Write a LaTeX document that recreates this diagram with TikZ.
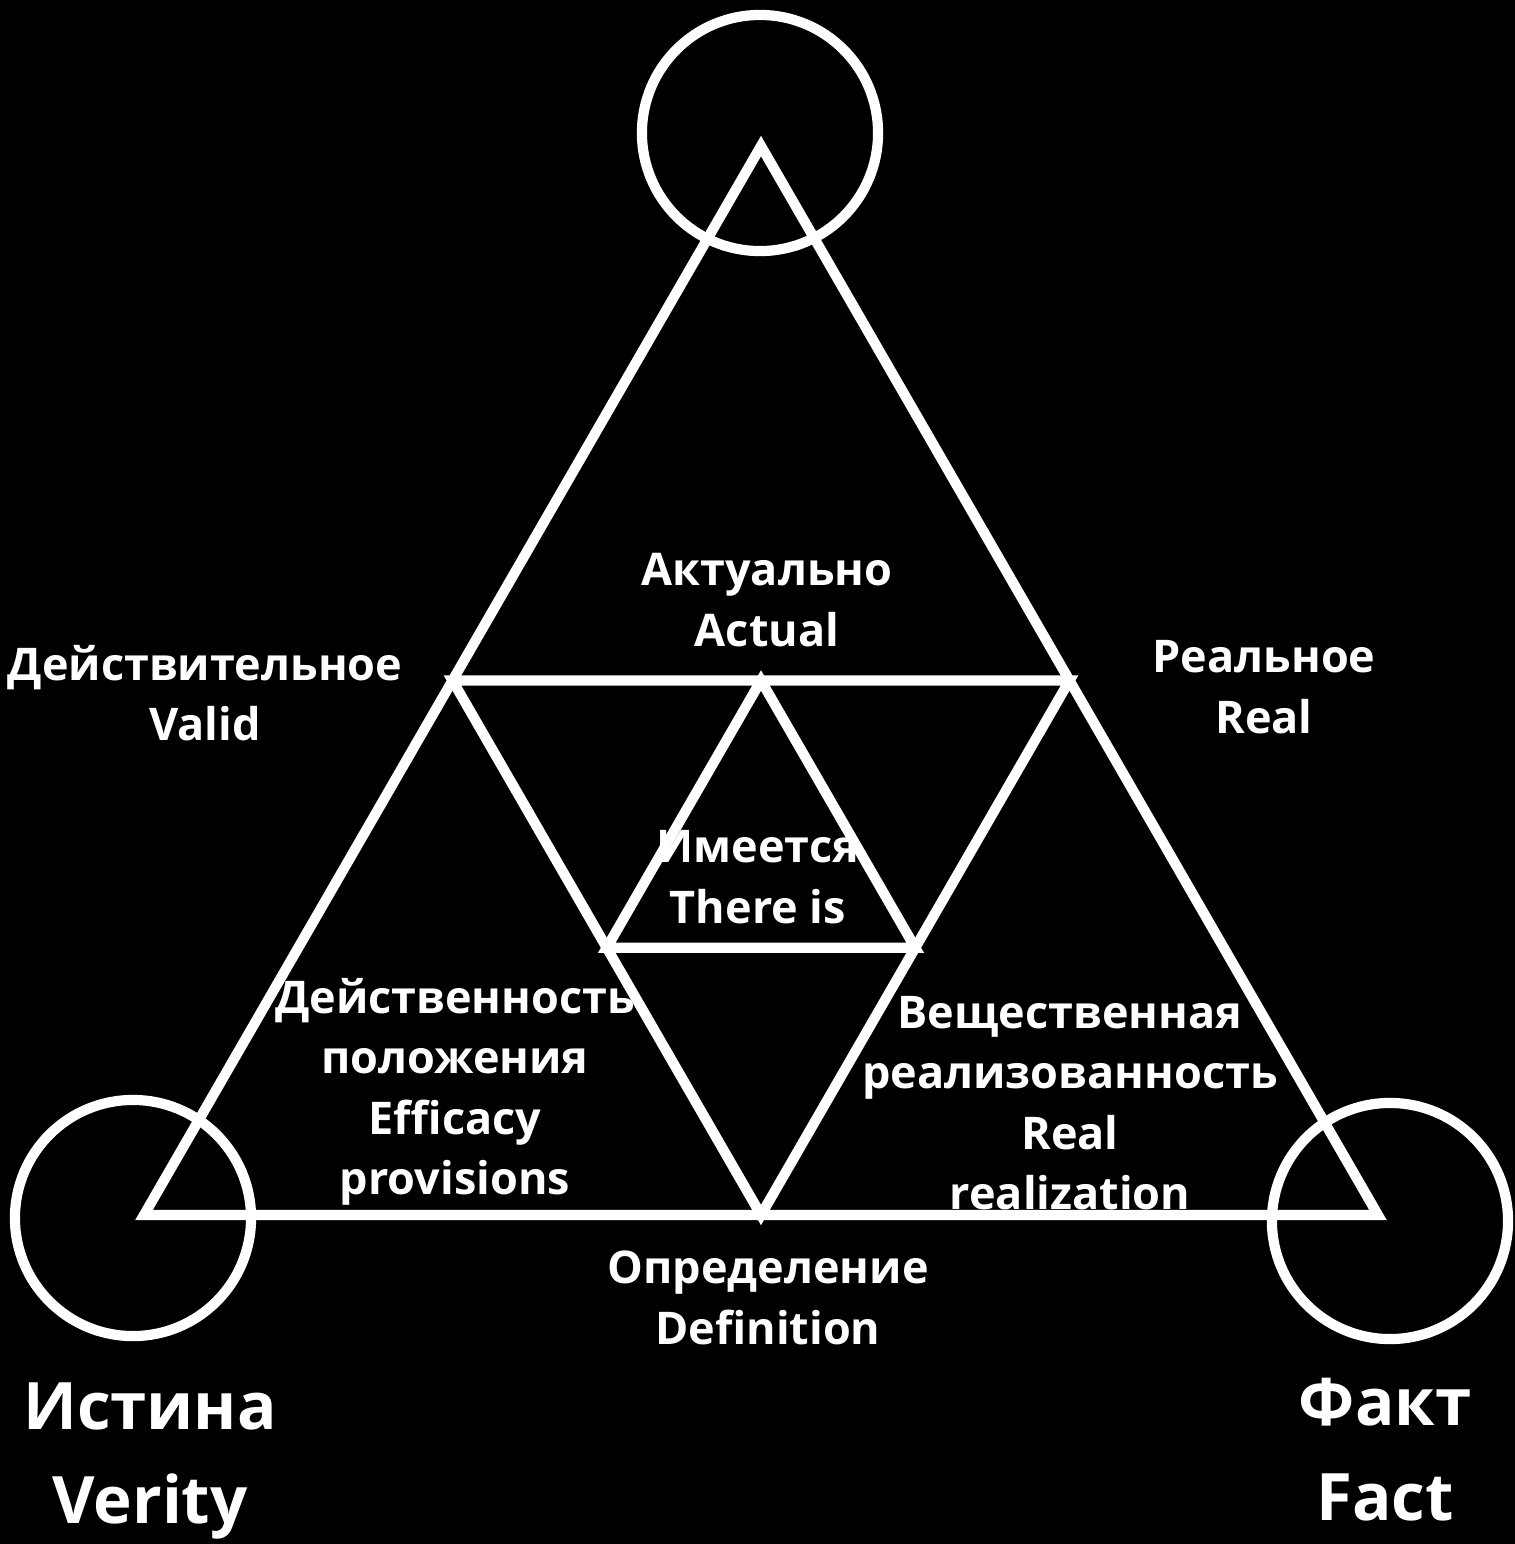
\documentclass[tikz,border=0pt]{standalone}
\usepackage{fontspec}
\setmainfont{Open Sans}
\usetikzlibrary{calc}

\begin{document}
\begin{tikzpicture}[
        x=0.01cm, y=-0.01cm,
        edge/.style={draw=white, line width=2.9pt, line join=miter},
        ring/.style={circle, draw=white, line width=2.9pt, inner sep=0pt,
                     minimum size=2.36cm},
        lbl/.style={text=white, align=center, inner sep=0pt,
                    font=\bfseries\fontsize{12.8}{17.2}\selectfont},
        biglbl/.style={lbl, font=\bfseries\fontsize{18.6}{27}\selectfont},
    ]

    % black page, fixed size
    \fill[black] (0,0) rectangle (1515,1544);
    \useasboundingbox (0,0) rectangle (1515,1544);

    % ---------- outer triangle and its subdivisions -----------------------
    \coordinate (top)   at ( 761, 146);
    \coordinate (left)  at ( 144,1215);
    \coordinate (right) at (1378,1215);

    \coordinate (midl) at ($(top)!0.5!(left)$);
    \coordinate (midr) at ($(top)!0.5!(right)$);
    \coordinate (midb) at ($(left)!0.5!(right)$);

    \coordinate (innl) at ($(midl)!0.5!(midb)$);
    \coordinate (innr) at ($(midr)!0.5!(midb)$);
    \coordinate (innt) at ($(midl)!0.5!(midr)$);

    % ---------- circles at the corners ------------------------------------
    \node[ring] (topring)   at ( 760, 133) {};
    \node[ring] (leftring)  at ( 133,1218) {};
    \node[ring] (rightring) at (1390,1221) {};

    \draw[edge] (top) -- (left) -- (right) -- cycle;
    \draw[edge] (midl) -- (midr) -- (midb) -- cycle;
    \draw[edge] (innt) -- (innl) -- (innr) -- cycle;

    % ---------- labels -----------------------------------------------------
    \node[lbl] (actual)     at ( 767, 600) {Актуально\\Actual};
    \node[lbl] (valid)      at ( 205, 693) {Действительное\\Valid};
    \node[lbl] (real)       at (1264, 687) {Реальное\\Real};
    \node[lbl] (thereis)    at ( 758, 877) {Имеется\\There is};
    \node[lbl] (efficacy)   at ( 455,1092) {Действенность\\положения\\Efficacy\\provisions};
    \node[lbl] (realiz)     at (1070,1103) {Вещественная\\реализованность\\Real\\realization};
    \node[lbl] (definition) at ( 768,1298) {Определение\\Definition};

    \node[biglbl] (verity) at ( 150,1461) {Истина\\Verity};
    \node[biglbl] (fact)   at (1385,1450) {Факт\\Fact};

\end{tikzpicture}
\end{document}
